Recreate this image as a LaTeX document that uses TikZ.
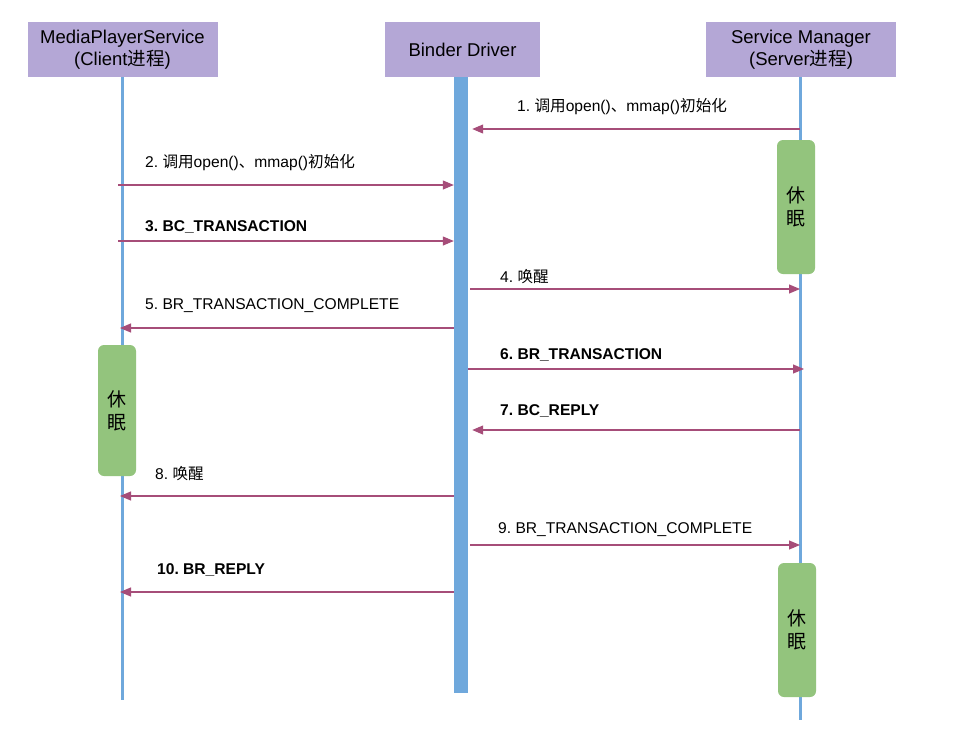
\documentclass[tikz,border=0pt]{standalone}
\usepackage{fontspec}
\setmainfont{Liberation Sans}
\newfontfamily\cjk{Noto Sans CJK SC}
\usetikzlibrary{arrows.meta}
\definecolor{lav}{HTML}{B4A7D6}
\definecolor{lifeblue}{HTML}{6FA8DC}
\definecolor{sleepgreen}{HTML}{93C47D}
\definecolor{msgc}{HTML}{A64D79}
\frenchspacing
\begin{document}
\begin{tikzpicture}[x=1pt,y=-1pt,
  head/.style={fill=lav, draw=none, minimum height=55pt, align=center, inner sep=0pt, font=\fontsize{18.5}{22}\selectfont},
  life/.style={draw=lifeblue, line width=3pt},
  barbox/.style={fill=lifeblue, draw=none, minimum width=14pt, minimum height=616pt, inner sep=0pt},
  sleepbox/.style={fill=sleepgreen, draw=none, rounded corners=6pt, minimum width=38pt, minimum height=134pt, align=center, inner sep=0pt, font=\fontsize{19}{23}\selectfont\cjk},
  msg/.style={draw=msgc, line width=1.1pt, -{Triangle[length=11pt,width=9pt]}},
  lbl/.style={anchor=west, inner sep=0pt, font=\fontsize{15.6}{18}\selectfont},
  blbl/.style={lbl, font=\fontsize{15.6}{18}\selectfont\bfseries}]
\useasboundingbox[fill=white] (0,0) rectangle (953,731);
% headers
\node[head, minimum width=190pt] (mps) at (122.5,49.5) {MediaPlayerService\\(Client{\cjk 进程})};
\node[head, minimum width=155pt] (bdh) at (462.5,49.5) {Binder Driver};
\node[head, minimum width=190pt] (sm) at (801,49.5) {Service Manager\\(Server{\cjk 进程})};
% lifelines
\coordinate (mpsend) at (122,700);
\coordinate (smend) at (800,720);
\draw[life] (mps.south -| mpsend) -- (mpsend);
\draw[life] (sm.south -| smend) -- (smend);
\node[barbox, anchor=north] (bd) at (461,77) {};
% sleep boxes
\node[sleepbox] (s1) at (796,207) {休\\眠};
\node[sleepbox, minimum height=131pt] (s2) at (117,410.5) {休\\眠};
\node[sleepbox] (s3) at (797,630) {休\\眠};
% messages
\draw[msg, shorten >=4pt] (smend |- 0,129) -- (bd.east |- 0,129);
\node[lbl] (l1) at (517,107) {1. {\cjk 调用}open(){\cjk 、}mmap(){\cjk 初始化}};
\draw[msg, shorten <=-4pt] (mpsend |- 0,185) -- (bd.west |- 0,185);
\node[lbl] (l2) at (145,163) {2. {\cjk 调用}open(){\cjk 、}mmap(){\cjk 初始化}};
\draw[msg, shorten <=-4pt] (mpsend |- 0,241) -- (bd.west |- 0,241);
\node[blbl] (l3) at (145,227) {3. BC\_TRANSACTION};
\draw[msg, shorten <=2pt] (bd.east |- 0,289) -- (smend |- 0,289);
\node[lbl] (l4) at (500,277) {4. {\cjk 唤醒}};
\draw[msg, shorten >=-2pt] (bd.west |- 0,328) -- (mpsend |- 0,328);
\node[lbl] (l5) at (145,306) {5. BR\_TRANSACTION\_COMPLETE};
\draw[msg, shorten >=-4pt] (bd.east |- 0,369) -- (smend |- 0,369);
\node[blbl] (l6) at (500,355) {6. BR\_TRANSACTION};
\draw[msg, shorten >=4pt] (smend |- 0,430) -- (bd.east |- 0,430);
\node[blbl] (l7) at (500,411) {7. BC\_REPLY};
\draw[msg, shorten >=-2pt] (bd.west |- 0,496) -- (mpsend |- 0,496);
\node[lbl] (l8) at (155,474) {8. {\cjk 唤醒}};
\draw[msg, shorten <=2pt] (bd.east |- 0,545) -- (smend |- 0,545);
\node[lbl] (l9) at (498,530) {9. BR\_TRANSACTION\_COMPLETE};
\draw[msg, shorten >=-2pt] (bd.west |- 0,592) -- (mpsend |- 0,592);
\node[blbl] (l10) at (157,570) {10. BR\_REPLY};
\end{tikzpicture}
\end{document}
